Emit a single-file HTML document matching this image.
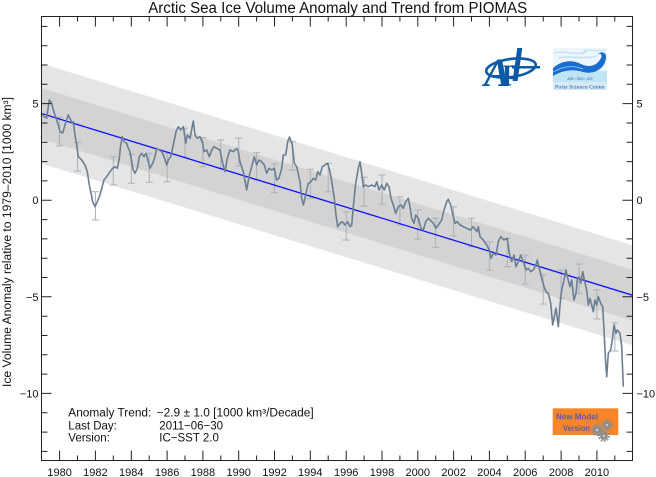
<!DOCTYPE html>
<html><head><meta charset="utf-8"><style>
html,body{margin:0;padding:0;background:#fff;}
svg{display:block;}
text{font-family:"Liberation Sans",Arial,sans-serif;fill:#111;}
</style></head><body>
<svg width="656" height="477" viewBox="0 0 656 477" xmlns="http://www.w3.org/2000/svg">
<defs><clipPath id="pc"><rect x="41.5" y="16.5" width="591" height="444"/></clipPath></defs>
<rect width="656" height="477" fill="#fff"/>
<text x="337.7" y="13" font-size="15.5" text-anchor="middle" textLength="379" lengthAdjust="spacingAndGlyphs">Arctic Sea Ice Volume Anomaly and Trend from PIOMAS</text>
<g clip-path="url(#pc)">
<polygon points="41.5,63.5 632.5,245.2 632.5,345.2 41.5,163.5" fill="#e5e5e5"/>
<polygon points="41.5,88 632.5,269.7 632.5,320.7 41.5,139" fill="#d3d3d3"/>
<g stroke="#a9b1ba" stroke-width="1" fill="none">
<path d="M59.6,117.3V145.7M56.1,117.3h7M56.1,145.7h7
M77.5,142.3V171M74,142.3h7M74,171h7
M95.4,191.7V220M91.9,191.7h7M91.9,220h7
M113.3,156.7V185M109.8,156.7h7M109.8,185h7
M131.3,154.3V183.3M127.8,154.3h7M127.8,183.3h7
M149.2,153.3V182.3M145.7,153.3h7M145.7,182.3h7
M167.1,153.3V181.7M163.6,153.3h7M163.6,181.7h7
M185,128.3V156.7M181.5,128.3h7M181.5,156.7h7
M202.9,137.7V166.7M199.4,137.7h7M199.4,166.7h7
M220.8,140V168.3M217.3,140h7M217.3,168.3h7
M238.7,138V166M235.2,138h7M235.2,166h7
M256.6,152.7V180M253.1,152.7h7M253.1,180h7
M274.5,164V192.7M271,164h7M271,192.7h7
M292.4,141.7V170M288.9,141.7h7M288.9,170h7
M310.3,169.3V198.3M306.8,169.3h7M306.8,198.3h7
M328.2,163.3V191.7M324.7,163.3h7M324.7,191.7h7
M346.2,211.7V240M342.7,211.7h7M342.7,240h7
M364.1,177.3V206M360.6,177.3h7M360.6,206h7
M382,175V204M378.5,175h7M378.5,204h7
M399.9,196.7V225M396.4,196.7h7M396.4,225h7
M417.8,210V239.3M414.3,210h7M414.3,239.3h7
M435.7,218.3V247.3M432.2,218.3h7M432.2,247.3h7
M453.6,206.7V236M450.1,206.7h7M450.1,236h7
M471.5,218.3V246.7M468,218.3h7M468,246.7h7
M489.4,241.7V270M485.9,241.7h7M485.9,270h7
M507.3,238.3V266.7M503.8,238.3h7M503.8,266.7h7
M525.2,255V284M521.7,255h7M521.7,284h7
M543.2,275V304M539.7,275h7M539.7,304h7
M561.1,270V298.3M557.6,270h7M557.6,298.3h7
M579,264V293.3M575.5,264h7M575.5,293.3h7
M596.9,290V319M593.4,290h7M593.4,319h7
M614.8,322.7V351M611.3,322.7h7M611.3,351h7"/>
</g>
<line x1="41.5" y1="113.5" x2="632.5" y2="295.2" stroke="#1010ff" stroke-width="1.3"/>
<polyline fill="none" stroke="#6b7f93" stroke-width="1.6" stroke-linejoin="round" points="41.7,113.3 44,116.7 46.7,118 49.3,100 51.7,103 53.3,110 56,118 58.3,125 60,131.7 62.7,133 65,125 68.3,115 70.7,120 72.3,123.3 73.3,121.7 75,135 76.7,145 78.3,156.7 81.7,160 85,165 87.3,171.7 89.3,185 90.7,191.7 92.7,201.7 95,206.7 97.3,201.7 100,195 101.7,188.3 104,180 106.7,176.7 110,171.7 112.7,168.3 115,166.7 117.3,168.3 119.3,158.3 120.7,145 122.3,136.7 124,141.7 126.7,143.3 128.3,148.3 130,151.7 131.7,161.7 133.3,170 135,173.3 137.3,168.3 139.3,156.7 141.7,153.3 144,156.7 146,153.3 148.3,161.7 150,168.3 152.7,163.3 155,156.7 156.7,148.3 159.3,150 161.7,151.7 164,156.7 166.7,165 168.3,160 170.7,156.7 173.3,145 176,131.7 178.3,126.7 180.7,130 183.3,126.7 185.7,143.3 187.3,135 190,138.3 193.3,121 195,135 197.3,138.3 200,136.7 202.7,143.3 204,151.7 206.7,150 209.3,156.7 211.7,150 214,146.7 216.7,148.3 220,150 222.7,163.3 225,171.7 227.3,158.3 230,150 233.3,151.7 236.7,148.3 238.3,151.7 240,161.7 243.3,171.7 246.7,190 249,176.7 251.7,166.7 254.3,156.7 256.7,165 259,160 261.7,161.7 264.3,165 266.7,173.3 269,168.3 271.7,170 274.3,168.3 276.7,180 279,178.3 281.7,168.3 283.3,155 285.7,155 287.7,141.7 289.5,137 292.3,145 294.3,163.3 296.7,166.7 300,181.7 301.7,198.3 303.3,205 305,198.3 306.7,190 308.3,183.3 311,181.7 313.3,178.3 315.7,180 317.7,171.7 320,175 322.3,166.7 325,165 327.7,163.3 330,171.7 332.3,185 334.3,198.3 336,215 337.7,226.7 340,223.3 342.3,221.7 345,225 347.7,221.7 350,226.7 351.7,225 353.3,206.7 355.7,183.3 358.3,168.3 360,161.7 361.7,173.3 363.3,186.7 365.7,185 368.3,186.7 371.7,185 375,186.7 376.7,181.7 379,190 381.7,185 384.3,190 386.7,183.3 389,186.7 391,198.3 393.3,205 395.7,213.3 398.3,206.7 401,205 403.3,208.3 405.7,201.7 408.3,198.3 410,206.7 411.7,218.3 414,223.3 415.7,215 418.3,218.3 421,228.3 423.3,230 425.7,221.7 428.3,218.3 431.7,221.7 433.3,223.3 436,228.3 438.3,225 441.7,220 444,210 446.7,201.7 448.3,199.3 450.7,205 453.3,216.7 455,223.3 457.3,221.7 460,225 463.3,226.7 466.7,228.3 470,230 473.3,226.7 476.7,231.7 478.3,226.7 480,236.7 483.3,240 486.7,245 489.3,250 491,258.3 493.3,253.3 496,255 498.3,241.7 500.7,236.7 504,240 507.3,238.3 509.3,253.3 511.7,261.7 514,255 516,266.7 518.3,261.7 520.7,255 523.3,261.7 526,270 528.3,268.3 530.7,271.7 533.3,270 536,265 537.3,260 539.3,268.3 541.7,278.3 544,286.7 546,291.7 548.3,293.3 550.7,303.3 552.7,325 554,318.3 556,308.3 558.3,326.7 560,305 561.7,290 564,280 566,270 567.7,278.3 570,286.7 571.7,280 574,300 576,293.3 577.3,280 579.3,276.7 580.7,283.3 582.7,271.7 584,278.3 586.7,290 588.3,305 590,298.3 591.7,305 593.3,311.7 595,300 596.7,305 598.3,296.7 600.7,303.3 602.7,306.7 604,330 605.7,363.3 606.7,376.7 608.3,353.3 610.7,350 612.7,336.7 614,325 616,333.3 617.3,330 620,333.3 621.7,346.7 623.3,386.7"/>
</g>
<rect x="41.5" y="16.5" width="591" height="444" fill="none" stroke="#222" stroke-width="1"/>
<g stroke="#222" stroke-width="1" fill="none">
<path d="M59.6,460.5v-10M77.5,460.5v-5M95.4,460.5v-10M113.3,460.5v-5M131.3,460.5v-10M149.2,460.5v-5M167.1,460.5v-10M185,460.5v-5M202.9,460.5v-10M220.8,460.5v-5M238.7,460.5v-10M256.6,460.5v-5M274.5,460.5v-10M292.4,460.5v-5M310.3,460.5v-10M328.2,460.5v-5M346.2,460.5v-10M364.1,460.5v-5M382,460.5v-10M399.9,460.5v-5M417.8,460.5v-10M435.7,460.5v-5M453.6,460.5v-10M471.5,460.5v-5M489.4,460.5v-10M507.3,460.5v-5M525.2,460.5v-10M543.2,460.5v-5M561.1,460.5v-10M579,460.5v-5M596.9,460.5v-10M614.8,460.5v-5"/>
<path d="M59.6,16.5v10M77.5,16.5v5M95.4,16.5v10M113.3,16.5v5M131.3,16.5v10M149.2,16.5v5M167.1,16.5v10M185,16.5v5M202.9,16.5v10M220.8,16.5v5M238.7,16.5v10M256.6,16.5v5M274.5,16.5v10M292.4,16.5v5M310.3,16.5v10M328.2,16.5v5M346.2,16.5v10M364.1,16.5v5M382,16.5v10M399.9,16.5v5M417.8,16.5v10M435.7,16.5v5M453.6,16.5v10M471.5,16.5v5M489.4,16.5v10M507.3,16.5v5M525.2,16.5v10M543.2,16.5v5M561.1,16.5v10M579,16.5v5M596.9,16.5v10M614.8,16.5v5"/>
<path d="M41.5,26.4h6M41.5,45.7h6M41.5,65h6M41.5,84.3h6M41.5,103.6h10M41.5,123h6M41.5,142.3h6M41.5,161.6h6M41.5,180.9h6M41.5,200.2h10M41.5,219.6h6M41.5,238.9h6M41.5,258.2h6M41.5,277.5h6M41.5,296.8h10M41.5,316.2h6M41.5,335.5h6M41.5,354.8h6M41.5,374.1h6M41.5,393.4h10M41.5,412.8h6M41.5,432.1h6M41.5,451.4h6"/>
<path d="M632.5,26.4h-6M632.5,45.7h-6M632.5,65h-6M632.5,84.3h-6M632.5,103.6h-10M632.5,123h-6M632.5,142.3h-6M632.5,161.6h-6M632.5,180.9h-6M632.5,200.2h-10M632.5,219.6h-6M632.5,238.9h-6M632.5,258.2h-6M632.5,277.5h-6M632.5,296.8h-10M632.5,316.2h-6M632.5,335.5h-6M632.5,354.8h-6M632.5,374.1h-6M632.5,393.4h-10M632.5,412.8h-6M632.5,432.1h-6M632.5,451.4h-6"/>
</g>
<g font-size="11" text-anchor="middle">
<text x="59.6" y="475.8">1980</text><text x="95.4" y="475.8">1982</text><text x="131.3" y="475.8">1984</text><text x="167.1" y="475.8">1986</text><text x="202.9" y="475.8">1988</text><text x="238.7" y="475.8">1990</text><text x="274.5" y="475.8">1992</text><text x="310.3" y="475.8">1994</text><text x="346.2" y="475.8">1996</text><text x="382" y="475.8">1998</text><text x="417.8" y="475.8">2000</text><text x="453.6" y="475.8">2002</text><text x="489.4" y="475.8">2004</text><text x="525.2" y="475.8">2006</text><text x="561.1" y="475.8">2008</text><text x="596.9" y="475.8">2010</text>
</g>
<g font-size="11" text-anchor="end">
<text x="38.5" y="107.6">5</text><text x="38.5" y="204.2">0</text><text x="38.5" y="300.8">−5</text><text x="38.5" y="397.4">−10</text>
</g>
<g font-size="11" text-anchor="start">
<text x="636.5" y="107.6">5</text><text x="636.5" y="204.2">0</text><text x="636.5" y="300.8">−5</text><text x="636.5" y="397.4">−10</text>
</g>
<text transform="translate(10.8,242) rotate(-90)" font-size="11.5" text-anchor="middle" textLength="290" lengthAdjust="spacingAndGlyphs">Ice Volume Anomaly relative to 1979–2010 [1000 km³]</text>
<g font-size="11.5">
<text x="68.3" y="416.7" textLength="83" lengthAdjust="spacingAndGlyphs">Anomaly Trend:</text>
<text x="156.7" y="416.7" textLength="157" lengthAdjust="spacingAndGlyphs">−2.9 ± 1.0 [1000 km³/Decade]</text>
<text x="68.3" y="429.3">Last Day:</text>
<text x="159.3" y="429.3">2011−06−30</text>
<text x="68.3" y="441.7">Version:</text>
<text x="159.3" y="441.7">IC−SST 2.0</text>
</g>
<g>
<ellipse cx="511" cy="68" rx="25" ry="9" transform="rotate(-8 511 68)" fill="none" stroke="#0b5aa6" stroke-width="2.6"/>
<text x="484" y="86" font-size="40" style="font-family:'Liberation Serif',serif;font-weight:bold;font-style:italic;fill:#0b5aa6">A</text>
<text x="503" y="79" font-size="30" style="font-family:'Liberation Serif',serif;font-weight:bold;fill:#0b5aa6">p</text>
<rect x="524" y="48" width="5" height="33" transform="skewX(-8)" fill="#0b5aa6"/>
<rect x="512" y="66" width="28" height="2.5" fill="#0b5aa6"/>
</g>
<g transform="translate(553,48)">
<rect width="54" height="42" fill="#edf6fc"/>
<path d="M2,5 C12,2 22,8 34,4 M6,10 C18,7 28,12 44,8 M30,3 C38,1 46,4 52,2" stroke="#c6e2f4" stroke-width="1.6" fill="none"/>
<rect y="23" width="54" height="11" fill="#bfe5f5"/>
<path d="M0,20 C8,13 18,11 28,16 C36,20 44,18 48,10 C50,6 46,4 44,8 C47,2 54,4 53,10 C52,20 42,27 30,24 C20,21 10,22 0,28 Z" fill="#1a6dd0"/>
<path d="M0,24 C10,18 20,17 30,21" stroke="#7fc0ee" stroke-width="1" fill="none"/>
<text x="27" y="32" font-size="3.6" text-anchor="middle" style="fill:#2a5fb0">AIR  •  SEA  •  ICE</text>
<rect y="34" width="54" height="8" fill="#d4ebf8"/>
<text x="27" y="40.5" font-size="5.6" text-anchor="middle" textLength="50" lengthAdjust="spacingAndGlyphs" style="font-family:'Liberation Serif',serif;fill:#2b4fa0">Polar Science Center</text>
</g>
<rect x="552.7" y="408.3" width="65.6" height="26.7" fill="#f7862b"/>
<text x="556" y="419.5" font-size="8.6" textLength="42" lengthAdjust="spacingAndGlyphs" style="font-weight:bold;fill:#5b5ba8">New Model</text>
<text x="563" y="431" font-size="8.6" textLength="27" lengthAdjust="spacingAndGlyphs" style="font-weight:bold;fill:#5b5ba8">Version</text>
<g fill="#8e8e8e" stroke="#8e8e8e">
<circle cx="597" cy="430" r="4" stroke="none"/>
<circle cx="597" cy="430" r="5" fill="none" stroke-width="2.4" stroke-dasharray="1.8 1.4"/>
<circle cx="607" cy="425" r="3.6" stroke="none"/>
<circle cx="607" cy="425" r="4.6" fill="none" stroke-width="2.2" stroke-dasharray="1.7 1.3"/>
<circle cx="604" cy="436" r="3.8" stroke="none"/>
<circle cx="604" cy="436" r="4.8" fill="none" stroke-width="2.2" stroke-dasharray="1.7 1.3"/>
</g>
<circle cx="597" cy="430" r="1.3" fill="#c8c8c8"/><circle cx="607" cy="425" r="1.2" fill="#c8c8c8"/><circle cx="604" cy="436" r="1.2" fill="#c8c8c8"/>
</svg>
</body></html>
